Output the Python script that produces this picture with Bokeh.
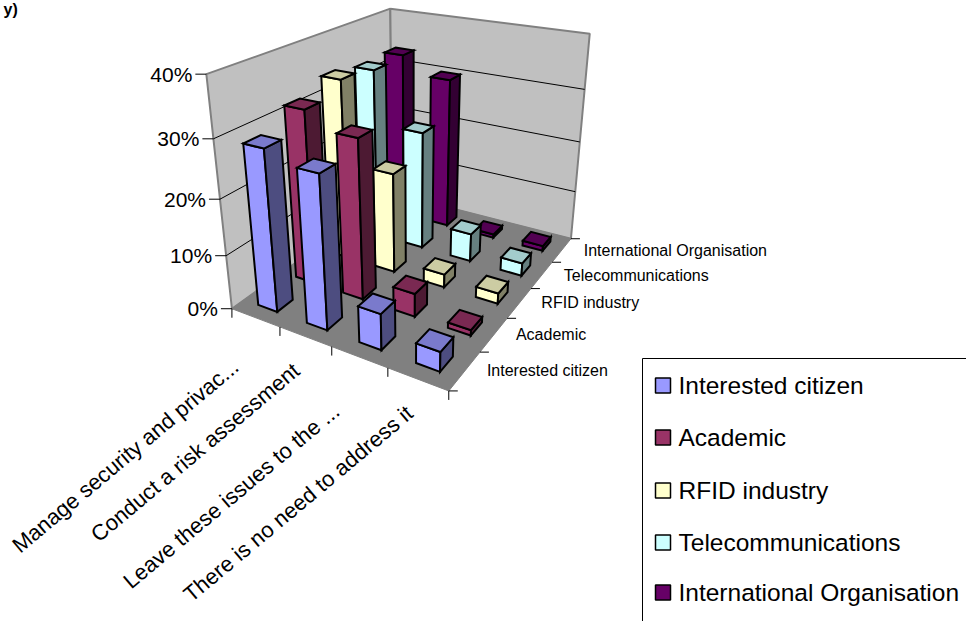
import numpy as np
from bokeh.plotting import figure
from bokeh.embed import file_html
from bokeh.resources import INLINE
from bokeh.core.properties import value

categories = ["Manage security and privac...", "Conduct a risk assessment",
              "Leave these issues to the ...", "There is no need to address it"]
series_names = ["Interested citizen", "Academic", "RFID industry",
                "Telecommunications", "International Organisation"]
interested_citizen = [28.8, 27, 6.5, 3.5]
academic = [31.8, 29, 4.3, 1]
rfid_industry = [34, 19, 2.5, 2]
telecommunications = [33, 23, 5.5, 2.5]
international_org = [33.3, 30, 0.7, 1]
values = [interested_citizen, academic, rfid_industry, telecommunications, international_org]
value_ticks = [0, 10, 20, 30, 40]
value_labels = ["0%", "10%", "20%", "30%", "40%"]

front = ["#9999FF", "#993366", "#FFFFCC", "#CCFFFF", "#660066"]
side = ["#4D4D80", "#4D1A33", "#808066", "#668080", "#330033"]
top = ["#7A7ACC", "#7A2952", "#CCCCA3", "#A3CCCC", "#520052"]

# camera calibration: box coordinates -> page pixels
calib = [((0,0,0),(232,307)),((1,0,0),(279,326)),((2,0,0),(332,347)),((3,0,0),(387,367)),
         ((4,0,0),(448,390)),((4,1,0),(480,352)),((4,2,0),(507,318)),((4,3,0),(530,288)),
         ((4,4,0),(552,262)),((4,5,0),(570,238)),((0,5,0),(392,193)),((0,0,10),(225,256)),
         ((0,0,20),(218,199)),((0,0,30),(214,138)),((0,0,40),(206,74)),((0,5,40),(390,8)),
         ((4,5,40),(589,33))]
A, b = [], []
for (X, Y, Z), (u, v) in calib:
    A.append([X, Y, Z, 1, 0, 0, 0, 0, -u*X, -u*Y, -u*Z]); b.append(u)
    A.append([0, 0, 0, 0, X, Y, Z, 1, -v*X, -v*Y, -v*Z]); b.append(v)
M = np.append(np.linalg.lstsq(np.array(A, float), np.array(b, float), rcond=None)[0], 1).reshape(3, 4)

def proj(X, Y, Z):
    r = M @ np.array([X, Y, Z, 1.0])
    return float(r[0]/r[2]), float(r[1]/r[2])

def poly(pts):
    q = [proj(*c) for c in pts]
    return [a for a, _ in q], [c for _, c in q]

p = figure(width=966, height=621, x_range=(0, 966), y_range=(621, 0), toolbar_location=None,
           output_backend="svg", min_border=0, outline_line_color=None, margin=(0, 0, 0, 0))
p.axis.visible = False
p.grid.visible = False
p.background_fill_color = "white"

ZMAX = value_ticks[-1]
nx, ny = len(categories), len(series_names)
GREY = "#808080"
walls = [
    [(0,0,0),(0,ny,0),(0,ny,ZMAX),(0,0,ZMAX)],
    [(0,ny,0),(nx,ny,0),(nx,ny,ZMAX),(0,ny,ZMAX)],
]
for w in walls:
    xs, ys = poly(w)
    p.patch(xs, ys, fill_color="#C0C0C0", line_color=GREY, line_width=2)
xs, ys = poly([(0,0,0),(nx,0,0),(nx,ny,0),(0,ny,0)])
p.patch(xs, ys, fill_color=GREY, line_color=GREY, line_width=1)

# gridlines
for z in value_ticks[1:-1]:
    xs, ys = poly([(0,0,z),(0,ny,z),(nx,ny,z)])
    p.line(xs, ys, line_color="black", line_width=1)

# ticks + labels
for z, lab in zip(value_ticks, value_labels):
    a, c = proj(0, 0, z)
    p.segment([a-11], [c], [a], [c], line_color="black", line_width=1)
    p.text([a-14], [c], text=[lab], text_align="right", text_baseline="middle",
           text_font=value("Liberation Sans"), text_font_size="21px", text_color="black")
for i in range(nx+1):
    a, c = proj(i, 0, 0)
    p.segment([a], [c], [a], [c+9], line_color="black", line_width=1)
for j in range(ny+1):
    a, c = proj(nx, j, 0)
    p.segment([a], [c], [a+9], [c], line_color="black", line_width=1)
for j, s in enumerate(series_names):
    a, c = proj(nx, j+0.5, 0)
    p.text([a+22], [c], text=[s], text_align="left", text_baseline="middle",
           text_font=value("Liberation Sans"), text_font_size="16px", text_color="black")
cat_off = [(-20, 46), (-9, 31), (-23, 51), (-8, 31)]
for i, s in enumerate(categories):
    a, c = proj(i+0.5, 0, 0)
    p.text([a+cat_off[i][0]], [c+cat_off[i][1]], text=[s], text_align="right", text_baseline="middle",
           angle=np.radians(40), text_font=value("Liberation Sans"), text_font_size="22px", text_color="black")

# bars, back to front
LO, HI = 0.3, 0.7
fx, fy, fc = [], [], []
for j in range(ny-1, -1, -1):
    for i in range(nx):
        v = values[j][i]
        x0, x1, y0, y1 = i+LO, i+HI, j+LO, j+HI
        for face, col in (([(x0,y0,0),(x1,y0,0),(x1,y0,v),(x0,y0,v)], front[j]),
                          ([(x1,y0,0),(x1,y1,0),(x1,y1,v),(x1,y0,v)], side[j]),
                          ([(x0,y0,v),(x1,y0,v),(x1,y1,v),(x0,y1,v)], top[j])):
            xs, ys = poly(face)
            fx.append(xs); fy.append(ys); fc.append(col)
p.patches(fx, fy, fill_color=fc, line_color="black", line_width=2, line_join="miter")

# legend
LEFT, TOP, RIGHT, BOTTOM = 642, 358, 966, 621
p.line([LEFT, LEFT, RIGHT], [BOTTOM, TOP, TOP], line_color="black", line_width=1)
rows = [385, 437, 490, 542, 592]
for s, col, yy in zip(series_names, front, rows):
    p.quad(left=[655], right=[670], top=[yy-7.5], bottom=[yy+7.5], fill_color=col, line_color="black", line_width=1.5)
    p.text([678], [yy], text=[s], text_align="left", text_baseline="middle",
           text_font=value("Liberation Sans"), text_font_size="24.5px", text_color="black")

p.text([3], [0], text=["y)"], text_align="left", text_baseline="top", text_font_style="bold",
       text_font=value("Liberation Sans"), text_font_size="16px", text_color="black")

open("out.html", "w").write(file_html(p, INLINE))
